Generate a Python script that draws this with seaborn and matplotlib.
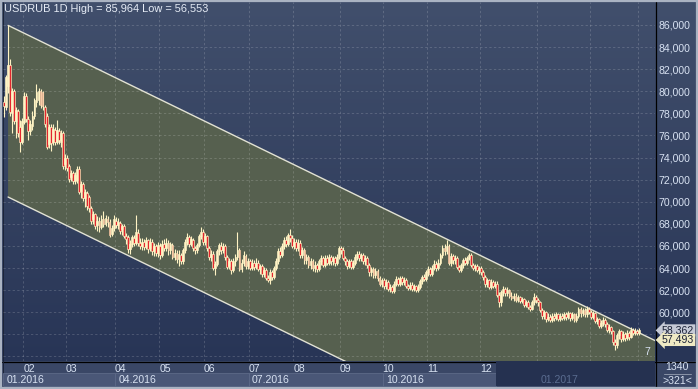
import numpy as np
import pandas as pd
import matplotlib
matplotlib.use("Agg")
import matplotlib.pyplot as plt
import matplotlib.transforms as mtransforms
from matplotlib.patches import Rectangle
from matplotlib.colors import LinearSegmentedColormap
import seaborn as sns

sns.set_theme(style="dark")
plt.rcParams['font.family'] = ['Liberation Sans', 'DejaVu Sans']

# ---------------- data (USDRUB daily candles) ----------------
opens = [
    79.0, 78.6, 80.5, 82.4, 78.0, 80.0, 77.3, 78.2, 76.8, 75.4,
    77.2, 79.6, 77.5, 76.4, 76.9, 77.8, 79.0, 79.2, 80.0, 79.9,
    78.6, 77.8, 75.2, 76.8, 75.4, 76.5, 75.4, 76.4, 75.4, 76.2,
    73.4, 74.0, 73.2, 72.2, 72.6, 71.9, 72.0, 73.0, 71.0, 71.6,
    70.3, 70.8, 70.4, 69.4, 68.4, 68.9, 67.9, 68.3, 67.7, 68.4,
    68.0, 68.4, 68.2, 67.1, 67.6, 68.3, 67.9, 68.1, 67.5, 67.8,
    66.9, 66.8, 65.7, 66.2, 66.7, 66.3, 67.2, 66.3, 66.0, 66.4,
    65.9, 66.5, 65.8, 66.4, 65.5, 66.0, 65.4, 66.0, 65.2, 66.2,
    65.8, 66.3, 65.6, 66.1, 65.0, 65.4, 64.8, 65.2, 64.6, 65.6,
    66.4, 66.8, 66.2, 66.5, 65.8, 65.6, 66.1, 66.9, 67.3, 66.4,
    66.9, 65.8, 65.0, 65.3, 64.0, 64.4, 65.5, 66.0, 65.6, 66.0,
    65.0, 64.2, 64.6, 63.8, 64.6, 65.0, 65.6, 63.9, 64.5, 65.1,
    64.2, 64.6, 64.0, 64.5, 64.1, 64.5, 63.9, 64.2, 63.5, 63.8,
    63.1, 62.9, 63.6, 63.2, 64.0, 64.6, 65.5, 65.2, 66.0, 66.5,
    66.2, 67.0, 66.7, 66.0, 66.4, 65.8, 66.3, 65.2, 65.6, 64.7,
    65.0, 64.3, 64.6, 64.0, 64.3, 63.9, 64.6, 64.9, 64.3, 64.9,
    64.5, 65.0, 64.6, 64.9, 64.5, 65.0, 65.8, 65.6, 64.9, 64.6,
    64.2, 64.6, 64.1, 64.5, 65.0, 65.3, 64.9, 65.2, 64.6, 64.9,
    64.3, 63.6, 63.9, 63.4, 63.7, 63.1, 62.6, 62.9, 62.4, 62.7,
    62.1, 62.3, 61.9, 62.6, 63.0, 62.6, 63.1, 62.7, 62.9, 62.4,
    62.2, 62.5, 62.1, 62.4, 62.0, 62.3, 62.8, 63.2, 63.0, 63.6,
    63.9, 63.5, 64.0, 64.4, 64.0, 64.5, 65.2, 65.8, 65.5, 66.0,
    64.5, 65.1, 64.7, 64.9, 64.1, 63.8, 64.3, 64.7, 64.5, 64.9,
    65.2, 64.3, 64.0, 64.2, 63.8, 64.0, 63.6, 63.2, 62.6, 62.9,
    62.3, 62.7, 62.4, 62.6, 61.6, 60.9, 61.8, 62.1, 61.7, 62.0,
    61.5, 61.3, 61.5, 61.1, 61.4, 61.0, 61.2, 60.7, 60.9, 60.5,
    60.3, 60.9, 61.4, 61.1, 60.9, 60.2, 59.7, 60.0, 59.4, 59.6,
    59.3, 59.7, 59.5, 59.8, 59.4, 59.7, 59.5, 59.8, 59.6, 59.9,
    59.5, 59.8, 59.3, 59.7, 60.3, 59.9, 60.2, 59.8, 60.3, 60.0,
    59.6, 59.9, 59.2, 59.4, 58.8, 59.0, 59.3, 58.9, 58.4, 58.7,
    58.3, 57.3, 57.0, 57.9, 58.3, 57.6, 58.0, 57.7, 58.1, 57.8,
    58.4, 58.1, 58.3, 58.1,
]
highs = [
    79.6, 81.5, 85.964, 82.9, 80.3, 80.2, 78.6, 78.4, 77.4, 77.6,
    79.9, 79.8, 77.8, 77.4, 78.2, 79.4, 80.7, 80.3, 80.2, 80.0,
    78.8, 78.0, 77.0, 77.0, 77.0, 76.8, 77.4, 76.7, 76.5, 76.4,
    74.3, 74.2, 73.4, 72.9, 72.8, 72.7, 73.2, 73.2, 71.9, 71.8,
    71.2, 71.0, 70.6, 69.6, 69.2, 69.0, 68.7, 68.6, 68.8, 69.2,
    68.8, 68.7, 68.4, 67.9, 68.8, 68.6, 68.5, 68.3, 68.0, 68.0,
    67.2, 67.0, 66.5, 67.0, 67.0, 68.8, 67.5, 66.7, 66.7, 66.6,
    66.8, 66.6, 66.7, 66.6, 66.3, 66.2, 66.4, 66.3, 66.5, 66.6,
    66.7, 66.5, 66.4, 66.3, 65.7, 65.6, 65.6, 65.4, 65.8, 66.6,
    67.2, 67.0, 66.9, 66.7, 66.0, 66.3, 67.1, 67.7, 67.5, 67.2,
    67.0, 66.0, 65.6, 65.5, 64.6, 65.7, 66.3, 66.4, 66.3, 66.2,
    65.2, 64.9, 64.8, 64.9, 65.3, 67.3, 65.8, 64.8, 65.5, 65.3,
    64.9, 64.8, 64.8, 64.7, 64.9, 64.7, 64.4, 64.4, 64.1, 64.0,
    63.4, 63.9, 63.8, 64.2, 64.9, 65.8, 65.9, 66.3, 66.8, 66.9,
    67.2, 67.5, 67.0, 66.7, 66.6, 66.6, 66.5, 65.9, 65.8, 65.3,
    65.2, 64.9, 64.8, 64.6, 64.5, 64.8, 65.2, 65.1, 65.2, 65.2,
    65.3, 65.2, 65.1, 65.1, 65.3, 66.0, 66.0, 65.9, 65.1, 64.8,
    64.8, 64.8, 64.7, 65.3, 65.5, 65.5, 65.4, 65.4, 65.2, 65.1,
    64.5, 64.1, 64.1, 64.0, 63.9, 63.3, 63.1, 63.1, 63.0, 62.9,
    62.6, 62.5, 62.8, 63.3, 63.2, 63.3, 63.3, 63.2, 63.1, 62.6,
    62.7, 62.7, 62.6, 62.5, 62.6, 63.0, 63.4, 63.5, 63.8, 64.2,
    64.1, 64.3, 64.7, 64.6, 64.8, 65.4, 66.1, 66.2, 66.5, 66.2,
    65.4, 65.3, 65.2, 65.1, 64.3, 64.5, 64.9, 65.0, 65.1, 65.4,
    65.4, 64.5, 64.4, 64.4, 64.2, 64.2, 63.8, 63.4, 63.1, 63.0,
    63.0, 62.9, 62.8, 62.8, 61.8, 62.0, 62.4, 62.3, 62.3, 62.1,
    61.8, 61.7, 61.7, 61.6, 61.5, 61.4, 61.3, 61.1, 61.1, 60.7,
    61.1, 61.7, 61.6, 61.3, 61.0, 60.4, 60.2, 60.1, 59.9, 59.8,
    59.9, 59.9, 60.0, 59.9, 59.9, 59.9, 60.0, 60.0, 60.1, 60.0,
    60.0, 59.9, 59.9, 60.5, 60.5, 60.4, 60.4, 60.6, 60.5, 60.2,
    60.1, 60.0, 59.6, 59.5, 59.3, 59.6, 59.5, 59.1, 58.9, 58.8,
    58.4, 57.6, 58.1, 58.5, 58.4, 58.3, 58.2, 58.4, 58.3, 58.7,
    58.6, 58.6, 58.5, 58.6,
]
lows = [
    77.7, 78.3, 79.8, 77.8, 76.2, 77.0, 75.8, 75.9, 74.5, 75.2,
    77.0, 77.2, 75.6, 76.0, 76.5, 77.5, 78.6, 78.8, 78.5, 78.3,
    76.8, 74.8, 74.9, 74.6, 75.1, 75.1, 75.2, 75.2, 75.0, 73.0,
    72.9, 72.8, 71.8, 71.9, 71.6, 71.6, 71.7, 70.7, 70.3, 70.1,
    69.5, 69.3, 69.1, 68.0, 68.0, 67.5, 67.4, 67.3, 67.5, 67.7,
    67.8, 67.7, 66.8, 66.9, 67.4, 67.6, 67.5, 67.1, 67.0, 66.7,
    66.2, 65.4, 65.3, 65.9, 66.0, 66.1, 66.0, 65.7, 65.6, 65.6,
    65.7, 65.4, 65.5, 65.2, 65.1, 65.1, 65.0, 64.8, 65.0, 65.5,
    65.5, 65.2, 65.3, 64.8, 64.7, 64.5, 64.2, 64.4, 64.4, 65.4,
    66.1, 65.9, 66.0, 65.5, 65.3, 65.4, 65.9, 66.6, 66.1, 66.1,
    65.5, 64.7, 64.6, 63.8, 63.4, 64.2, 65.2, 65.3, 65.4, 64.7,
    63.9, 63.9, 63.5, 63.6, 64.2, 64.7, 63.7, 63.6, 64.2, 63.9,
    63.9, 63.8, 63.8, 63.8, 63.9, 63.7, 63.5, 63.2, 63.2, 62.9,
    62.7, 62.6, 62.9, 63.0, 63.8, 64.4, 64.9, 65.0, 65.7, 65.9,
    66.0, 66.4, 65.8, 65.7, 65.5, 65.5, 64.9, 64.9, 64.4, 64.4,
    64.0, 63.9, 63.7, 63.6, 63.6, 63.7, 64.3, 64.1, 64.1, 64.3,
    64.3, 64.3, 64.3, 64.2, 64.3, 64.8, 65.3, 64.7, 64.3, 63.9,
    64.0, 63.9, 63.9, 64.3, 64.7, 64.6, 64.6, 64.4, 64.3, 64.0,
    63.3, 63.3, 63.1, 63.1, 62.8, 62.4, 62.3, 62.1, 62.1, 61.9,
    61.8, 61.7, 61.7, 62.4, 62.4, 62.4, 62.5, 62.5, 62.2, 62.0,
    62.0, 61.9, 61.9, 61.8, 61.8, 62.1, 62.6, 62.8, 62.8, 63.3,
    63.3, 63.3, 63.8, 63.7, 63.8, 64.3, 64.9, 65.2, 65.3, 64.3,
    64.2, 64.4, 64.4, 63.9, 63.6, 63.6, 64.0, 64.3, 64.3, 64.7,
    64.1, 63.8, 63.7, 63.6, 63.5, 63.4, 62.9, 62.3, 62.3, 62.1,
    62.1, 62.2, 62.2, 61.4, 60.5, 60.6, 61.5, 61.5, 61.5, 61.3,
    61.1, 61.0, 60.9, 60.9, 60.8, 60.8, 60.5, 60.5, 60.3, 60.1,
    60.2, 60.7, 60.8, 60.6, 60.0, 59.4, 59.4, 59.1, 59.2, 59.1,
    59.1, 59.2, 59.3, 59.2, 59.2, 59.3, 59.3, 59.3, 59.4, 59.2,
    59.3, 59.1, 59.1, 59.5, 59.6, 59.7, 59.6, 59.6, 59.8, 59.4,
    59.4, 59.0, 58.9, 58.6, 58.6, 58.8, 58.7, 58.2, 58.1, 58.0,
    57.0, 56.553, 56.8, 57.6, 57.3, 57.4, 57.4, 57.5, 57.5, 57.7,
    57.9, 57.9, 57.9, 57.9,
]
closes = [
    78.7, 81.3, 82.4, 78.1, 80.0, 77.3, 78.3, 76.2, 75.4, 77.3,
    79.6, 77.5, 76.4, 77.0, 77.8, 79.2, 79.9, 80.0, 78.8, 78.7,
    77.0, 75.0, 76.8, 75.3, 76.6, 75.4, 76.5, 75.6, 76.2, 73.2,
    74.0, 73.1, 72.1, 72.6, 71.9, 72.4, 73.0, 70.9, 71.6, 70.3,
    70.9, 69.6, 69.4, 68.3, 68.9, 67.8, 68.3, 67.7, 68.4, 68.0,
    68.5, 68.2, 67.0, 67.6, 68.4, 67.9, 68.2, 67.4, 67.8, 66.9,
    66.6, 65.7, 66.2, 66.8, 66.3, 67.3, 66.3, 66.0, 66.4, 65.9,
    66.5, 65.7, 66.4, 65.5, 66.0, 65.4, 66.1, 65.2, 66.2, 65.8,
    66.3, 65.6, 66.2, 65.0, 65.4, 64.8, 65.3, 64.6, 65.6, 66.4,
    66.8, 66.2, 66.6, 65.8, 65.6, 66.1, 66.9, 67.3, 66.4, 66.9,
    65.8, 65.0, 65.3, 64.0, 64.4, 65.5, 66.1, 65.6, 66.0, 65.0,
    64.1, 64.6, 63.8, 64.6, 65.0, 65.6, 63.9, 64.5, 65.2, 64.2,
    64.6, 64.0, 64.5, 64.1, 64.5, 63.9, 64.2, 63.5, 63.8, 63.1,
    62.9, 63.6, 63.2, 64.0, 64.6, 65.5, 65.2, 66.0, 66.5, 66.2,
    67.0, 66.7, 66.0, 66.4, 65.8, 66.3, 65.2, 65.6, 64.7, 65.0,
    64.3, 64.6, 64.0, 64.3, 63.9, 64.6, 64.9, 64.3, 64.9, 64.5,
    65.0, 64.6, 64.9, 64.5, 65.0, 65.8, 65.6, 64.9, 64.6, 64.2,
    64.6, 64.1, 64.5, 65.0, 65.3, 64.9, 65.2, 64.6, 64.9, 64.3,
    63.6, 63.9, 63.4, 63.7, 63.1, 62.6, 62.9, 62.4, 62.7, 62.1,
    62.3, 61.9, 62.6, 63.0, 62.6, 63.1, 62.7, 62.9, 62.4, 62.2,
    62.5, 62.1, 62.4, 62.0, 62.3, 62.8, 63.2, 63.0, 63.6, 63.9,
    63.5, 64.0, 64.4, 64.0, 64.5, 65.2, 65.8, 65.5, 66.0, 64.5,
    65.1, 64.7, 64.9, 64.1, 63.8, 64.3, 64.7, 64.5, 64.9, 65.2,
    64.3, 64.0, 64.2, 63.8, 64.0, 63.6, 63.2, 62.6, 62.9, 62.3,
    62.7, 62.4, 62.6, 61.6, 60.9, 61.8, 62.1, 61.7, 62.0, 61.5,
    61.3, 61.5, 61.1, 61.4, 61.0, 61.2, 60.7, 60.9, 60.5, 60.3,
    60.9, 61.4, 61.1, 60.9, 60.2, 59.7, 60.0, 59.4, 59.6, 59.3,
    59.7, 59.5, 59.8, 59.4, 59.7, 59.5, 59.8, 59.6, 59.9, 59.5,
    59.8, 59.3, 59.7, 60.3, 59.9, 60.2, 59.8, 60.3, 60.0, 59.6,
    59.9, 59.2, 59.4, 58.8, 59.0, 59.3, 58.9, 58.4, 58.7, 58.3,
    57.3, 57.0, 57.9, 58.3, 57.6, 58.0, 57.7, 58.1, 57.8, 58.4,
    58.1, 58.3, 58.1, 58.362,
]

month_first_bar = [10, 31, 55, 77, 99, 121, 143, 166, 187, 209, 235, 263, 289, 313]
month_labels = ['02', '03', '04', '05', '06', '07', '08', '09', '10', '11', '12', '01', '02', '03']
month_dim = [False] * 11 + [True] * 3
quarter_first_bar = [0, 55, 121, 187, 263]
quarter_labels = ['01.2016', '04.2016', '07.2016', '10.2016', '01.2017']
dark_zone_first_bar = 243

y_grid = [56, 58, 60, 62, 64, 66, 68, 70, 72, 74, 76, 78, 80, 82, 84, 86]
y_labels = ['', '', '60,000', '62,000', '64,000', '66,000', '68,000', '70,000', '72,000',
            '74,000', '76,000', '78,000', '80,000', '82,000', '84,000', '86,000']

channel_bars = [2, 320.7]
channel_upper = [85.964, 57.44]
channel_lower = [70.43, 41.91]

price_marks = [58.362, 57.493]
bars_total = 1340
bars_visible = 321
right_shift = 7

# ---------------- figure ----------------
W, H = 698, 389
FS = 7.6
fig = plt.figure(figsize=(W / 100, H / 100), dpi=100)
bg = fig.add_axes([0, 0, 1, 1])
bg.set_xlim(0, W)
bg.set_ylim(H, 0)
bg.axis('off')

grad = np.linspace(0, 1, 256).reshape(-1, 1)
cmap = LinearSegmentedColormap.from_list('bgq', ['#414f6c', '#283556'])
bg.imshow(grad, extent=(0, W, 361, 2), aspect='auto', cmap=cmap, zorder=0)
bg.add_patch(Rectangle((0, 361), W, 28, fc='#3a4766', ec='none', zorder=1))
# outer frame
bg.add_patch(Rectangle((0.5, 0.5), W - 1.5, H - 1.5, fc='none', ec='#aab3c2', lw=1.6, zorder=8))
bg.plot([655.5, 655.5], [2, 387], color='black', lw=0.9, zorder=6)
bg.plot([2, 696], [361.5, 361.5], color='black', lw=0.9, zorder=6)
bg.plot([2.5, 2.5], [2, 387], color='#1c2438', lw=0.7, zorder=6)

# bottom-right info box
txtc = '#d8e2f2'
bg.text(677, 367.5, str(bars_total), ha='center', va='center', fontsize=FS, color=txtc, zorder=7)
bg.plot([664, 691], [374, 374], color='#8a94a8', lw=0.7, zorder=7)
bg.text(677, 381, '>%d<' % bars_visible, ha='center', va='center', fontsize=FS, color=txtc, zorder=7)

ax = fig.add_axes([3 / W, 28 / H, 652 / W, 359 / H])
ax.set_zorder(3)
ax.patch.set_visible(False)
for s in ax.spines.values():
    s.set_visible(False)

df = pd.DataFrame({'open': opens, 'high': highs, 'low': lows, 'close': closes})
df['idx'] = np.arange(len(df))
df['up'] = df['close'] >= df['open']

ax.set_xlim(-0.5, 320.7)
ax.set_ylim(55.59, 88.08)

# channel
ax.fill_between(channel_bars, channel_lower, channel_upper, color='#56604f', lw=0, zorder=0.3)
sns.lineplot(x=channel_bars, y=channel_upper, ax=ax, color='#e2e2d4', lw=1.0, zorder=1)
sns.lineplot(x=channel_bars, y=channel_lower, ax=ax, color='#e2e2d4', lw=1.0, zorder=1)

# grid
month_pos = [b - 0.5 for b in month_first_bar]
ax.set_xticks(month_pos)
ax.set_yticks(y_grid)
ax.set_axisbelow(True)
ax.grid(True, color='white', alpha=0.16, linestyle=(0, (2.2, 2.2)), lw=0.75)

# candles
cream = '#fff3c4'
red = '#e3252d'
ax.vlines(df['idx'], df['low'], df['high'], color=cream, lw=0.8, zorder=2)
body_bottom = np.minimum(df['open'], df['close'])
body_h = np.maximum(np.abs(df['close'] - df['open']), 0.06)
ax.bar(df['idx'], body_h, bottom=body_bottom, width=0.9,
       color=np.where(df['up'], cream, red), edgecolor=cream, linewidth=0.45, zorder=3)

# axes labels
ax.tick_params(axis='x', length=0, pad=2.0, labelsize=FS)
ax.set_xticklabels(month_labels, ha='left')
for lab, dim in zip(ax.get_xticklabels(), month_dim):
    lab.set_color('#5b6d90' if dim else txtc)
ax.yaxis.tick_right()
ax.tick_params(axis='y', length=0, pad=2.2, labelsize=FS, labelcolor=txtc)
ax.set_yticklabels(y_labels)
ax.set_xlabel('')
ax.set_ylabel('')

# bottom band: quarter boxes + dark zone
trans = mtransforms.blended_transform_factory(ax.transData, ax.transAxes)
edges = [ax.get_xlim()[0]] + [b - 0.5 for b in quarter_first_bar[1:4]] + [dark_zone_first_bar - 0.5]
for i in range(4):
    ax.add_patch(Rectangle((edges[i], -0.0696), edges[i + 1] - edges[i], 0.0362,
                           transform=trans, fc='#4a5777', ec='#5d6a88', lw=0.6,
                           clip_on=False, zorder=1))
ax.add_patch(Rectangle((dark_zone_first_bar - 0.5, -0.0710), ax.get_xlim()[1] - dark_zone_first_bar + 0.5,
                       0.0700, transform=trans, fc='#253150', ec='none', clip_on=False, zorder=1.5))
for i, lab in enumerate(quarter_labels):
    xpos = edges[i] if i < 4 else quarter_first_bar[4] - 0.5
    t = mtransforms.offset_copy(trans, fig=fig, x=3.5, y=0, units='dots')
    ax.text(xpos, -0.0529, lab, transform=t, ha='left', va='center', fontsize=FS,
            color='#5b6d90' if i == 4 else txtc, clip_on=False, zorder=4)

# price marks on the right axis
transr = mtransforms.blended_transform_factory(ax.transAxes, ax.transData)
tr_off = mtransforms.offset_copy(transr, fig=fig, x=7, y=0, units='dots')
for val, fc in zip(price_marks, ['#c6cad6', '#efeac4']):
    ax.text(1.0, val, f"{val:.3f}".replace('.', ','), transform=tr_off, ha='left', va='center',
            fontsize=FS, color='#1a2136', clip_on=False, zorder=6,
            bbox=dict(boxstyle='larrow,pad=0.1', fc=fc, ec='none'))

ax.text(0.988, 0.012, str(right_shift), transform=ax.transAxes, ha='center', va='bottom',
        fontsize=FS, color=txtc, zorder=5)

title = "USDRUB 1D High = %s Low = %s" % (f"{max(highs):.3f}".replace('.', ','),
                                          f"{min(lows):.3f}".replace('.', ','))
bg.text(4, 9, title, ha='left', va='center', fontsize=7.9, color='#e6ecf6', zorder=7)

fig.savefig('out.png', dpi=100)
